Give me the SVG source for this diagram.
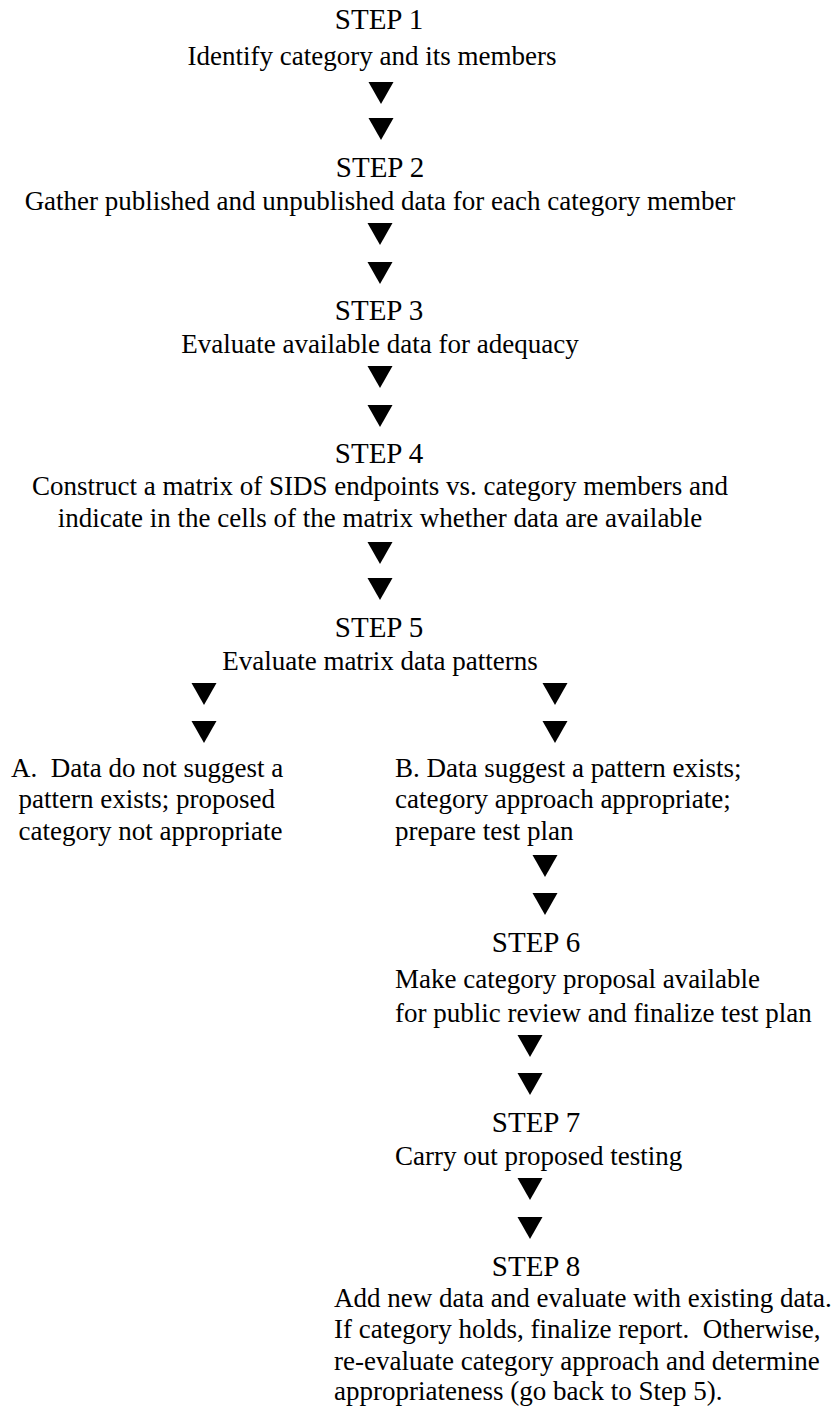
<svg xmlns="http://www.w3.org/2000/svg" xmlns:xlink="http://www.w3.org/1999/xlink" width="836" height="1410" viewBox="0 0 836 1410">
<style>
text{font-family:"Liberation Serif","Times New Roman",serif;font-size:27px;fill:#000}
.c{text-anchor:middle}
.h{font-size:29px}
.arr{fill:#000}
</style>
<defs>
<polygon id="tri" class="arr" points="-12.5,0 12.5,0 0,22"/>
</defs>
<rect width="836" height="1410" fill="#fff"/>
<g id="step1">
<text class="c h" x="379" y="29">STEP 1</text>
<text class="c" x="372" y="65">Identify category and its members</text>
</g>
<g id="step2">
<text class="c h" x="380" y="177">STEP 2</text>
<text class="c" x="380" y="210">Gather published and unpublished data for each category member</text>
</g>
<g id="step3">
<text class="c h" x="379" y="320">STEP 3</text>
<text class="c" x="380" y="353">Evaluate available data for adequacy</text>
</g>
<g id="step4">
<text class="c h" x="379" y="463">STEP 4</text>
<text class="c" x="380" y="495">Construct a matrix of SIDS endpoints vs. category members and</text>
<text class="c" x="380" y="527">indicate in the cells of the matrix whether data are available</text>
</g>
<g id="step5">
<text class="c h" x="379" y="637">STEP 5</text>
<text class="c" x="380" y="670">Evaluate matrix data patterns</text>
</g>
<g id="outcomeA">
<text x="11" y="777">A.&#160; Data do not suggest a</text>
<text x="18.5" y="808">pattern exists; proposed</text>
<text x="18.5" y="840">category not appropriate</text>
</g>
<g id="outcomeB">
<text x="395" y="777">B. Data suggest a pattern exists;</text>
<text x="395" y="808">category approach appropriate;</text>
<text x="395" y="840">prepare test plan</text>
</g>
<g id="step6">
<text class="c h" x="536" y="952">STEP 6</text>
<text x="395" y="988">Make category proposal available</text>
<text x="395" y="1022">for public review and finalize test plan</text>
</g>
<g id="step7">
<text class="c h" x="536" y="1132">STEP 7</text>
<text x="395" y="1165">Carry out proposed testing</text>
</g>
<g id="step8">
<text class="c h" x="536" y="1276">STEP 8</text>
<text x="334" y="1307">Add new data and evaluate with existing data.</text>
<text x="334" y="1338">If category holds, finalize report.&#160; Otherwise,</text>
<text x="334" y="1370">re-evaluate category approach and determine</text>
<text x="334" y="1400">appropriateness (go back to Step 5).</text>
</g>
<g id="connectors">
<use xlink:href="#tri" x="381" y="82"/>
<use xlink:href="#tri" x="381" y="118"/>
<use xlink:href="#tri" x="380" y="223"/>
<use xlink:href="#tri" x="380" y="262"/>
<use xlink:href="#tri" x="380" y="366"/>
<use xlink:href="#tri" x="380" y="405"/>
<use xlink:href="#tri" x="380" y="542"/>
<use xlink:href="#tri" x="380" y="578"/>
<use xlink:href="#tri" x="204" y="683"/>
<use xlink:href="#tri" x="204" y="721"/>
<use xlink:href="#tri" x="555" y="683"/>
<use xlink:href="#tri" x="555" y="721"/>
<use xlink:href="#tri" x="545" y="855"/>
<use xlink:href="#tri" x="545" y="893"/>
<use xlink:href="#tri" x="530" y="1035"/>
<use xlink:href="#tri" x="530" y="1073"/>
<use xlink:href="#tri" x="530" y="1178"/>
<use xlink:href="#tri" x="530" y="1217"/>
</g>
</svg>
